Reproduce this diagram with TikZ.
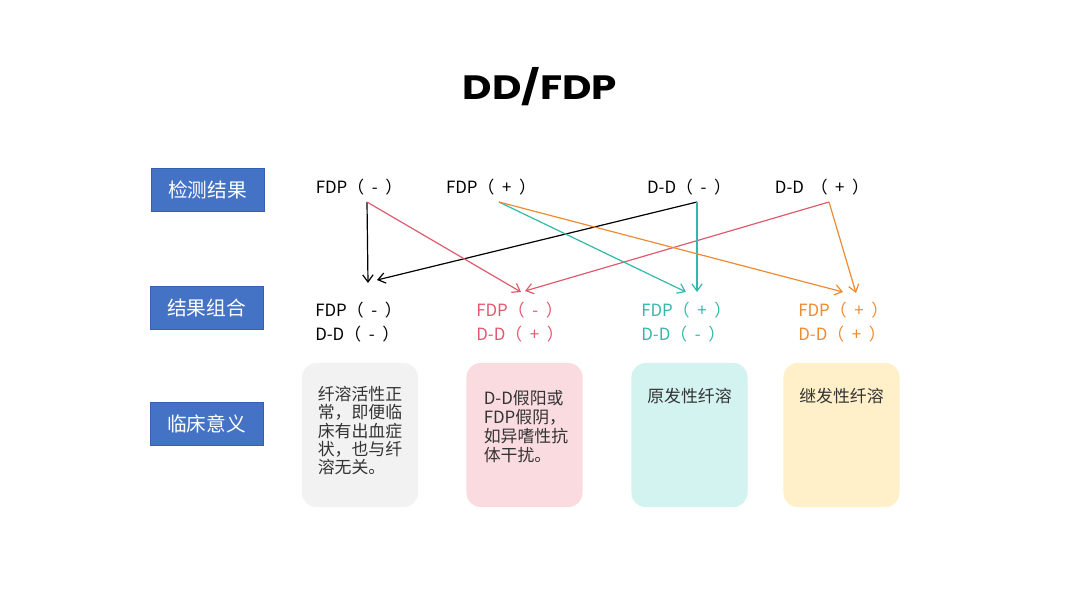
\documentclass[tikz,border=0pt]{standalone}
\usepackage{graphicx}
\usepackage{fontspec}
\setmainfont{Noto Sans CJK SC}
\setsansfont{Noto Sans CJK SC}
\newfontfamily\titlefont{Poppins}
\usetikzlibrary{positioning, arrows.meta}
\definecolor{mBlue}{HTML}{4472C4}
\definecolor{mBlueDk}{HTML}{3560AE}
\definecolor{mRed}{HTML}{E05A6E}
\definecolor{mTeal}{HTML}{33B8A8}
\definecolor{mOrange}{HTML}{EE8A30}
\definecolor{mGrayBg}{HTML}{F2F2F2}
\definecolor{mPinkBg}{HTML}{FADCE0}
\definecolor{mTealBg}{HTML}{D2F3F0}
\definecolor{mYellowBg}{HTML}{FFF0C9}
\definecolor{mText}{HTML}{333333}
\newcommand{\resmark}[1]{（\hspace{0.45em}#1\hspace{0.45em}）}

\begin{document}
\begin{tikzpicture}[
  x=0.025cm, y=-0.025cm,
  every node/.style={font=\fontsize{12}{13}\selectfont, inner sep=0pt},
  lbl/.style={draw=mBlueDk, fill=mBlue, text=white, line width=0.6pt,
              minimum width=2.825cm, minimum height=1.075cm,
              font=\fontsize{14}{16}\selectfont},
  cmb/.style={anchor=west, align=left, font=\fontsize{12}{17}\selectfont},
  card/.style={rounded corners=10pt, minimum width=2.9cm, minimum height=3.6cm},
  note/.style={anchor=north, align=left, text=mText},
  link/.style={line width=0.85pt, -{Straight Barb[length=1.8mm, width=2.6mm]}},
]
  % Canvas
  \useasboundingbox (0,0) rectangle (1080,608);

  % Title
  \node[font=\titlefont\bfseries\fontsize{24}{28}\selectfont] (title) at (540,87)
    {\scalebox{1.2}[1]{DD/FDP}};

  % Row labels
  \node[lbl] (lab1) at (207.5,189.5) {检测结果};
  \node[lbl] (lab2) at (206.5,307.5) {结果组合};
  \node[lbl] (lab3) at (206.5,423.5) {临床意义};

  % Test results
  \node (t1) at (359,187) {FDP\resmark{-}};
  \node (t2) at (491,187) {FDP\resmark{+}};
  \node (t3) at (689,187) {D-D\resmark{-}};
  \node (t4) at (822,187) {D-D\hspace{0.4em}\resmark{+}};

  % Combinations
  \foreach \n/\x/\c/\f/\d in {1/315/black/-/-, 2/476/mRed/-/+,
                              3/641/mTeal/+/-, 4/798/mOrange/+/+}
    \node[cmb, text=\c] (c\n) at (\x,322) {FDP\resmark{\f}\\D-D\resmark{\d}};

  % Arrow ports
  \coordinate (o1) at (367,202);
  \coordinate (o2) at (499,202);
  \coordinate (o3) at (697,202);
  \coordinate (o4) at (829,202);
  \coordinate (e1a) at (368,283);
  \coordinate (e1b) at (377,280);
  \coordinate (e2a) at (521,292);
  \coordinate (e2b) at (525,291);
  \coordinate (e3a) at (686,292);
  \coordinate (e3b) at (697,292);
  \coordinate (e4a) at (843,292);
  \coordinate (e4b) at (856,293);

  \foreach \a/\b/\c in {o1/e1a/black, o3/e1b/black, o1/e2a/mRed, o4/e2b/mRed,
                        o2/e3a/mTeal, o3/e3b/mTeal, o2/e4a/mOrange, o4/e4b/mOrange}
    \draw[link, \c] (\a) -- (\b);

  % Meaning cards
  \foreach \n/\x/\c in {1/360/mGrayBg, 2/524.5/mPinkBg, 3/689.5/mTealBg, 4/841.5/mYellowBg}
    \node[card, fill=\c] (m\n) at (\x,435) {};

  \node[note] (m1t) at (360,386) {纤溶活性正\\常，即便临\\床有出血症\\状，也与纤\\溶无关。};
  \node[note, font=\fontsize{12}{13.5}\selectfont] (m2t) at (526,390)
    {D-D假阳或\\FDP假阴，\\如异嗜性抗\\体干扰。};
  \node[note] (m3t) at (689.5,388) {原发性纤溶};
  \node[note] (m4t) at (841.5,388) {继发性纤溶};
\end{tikzpicture}
\end{document}
